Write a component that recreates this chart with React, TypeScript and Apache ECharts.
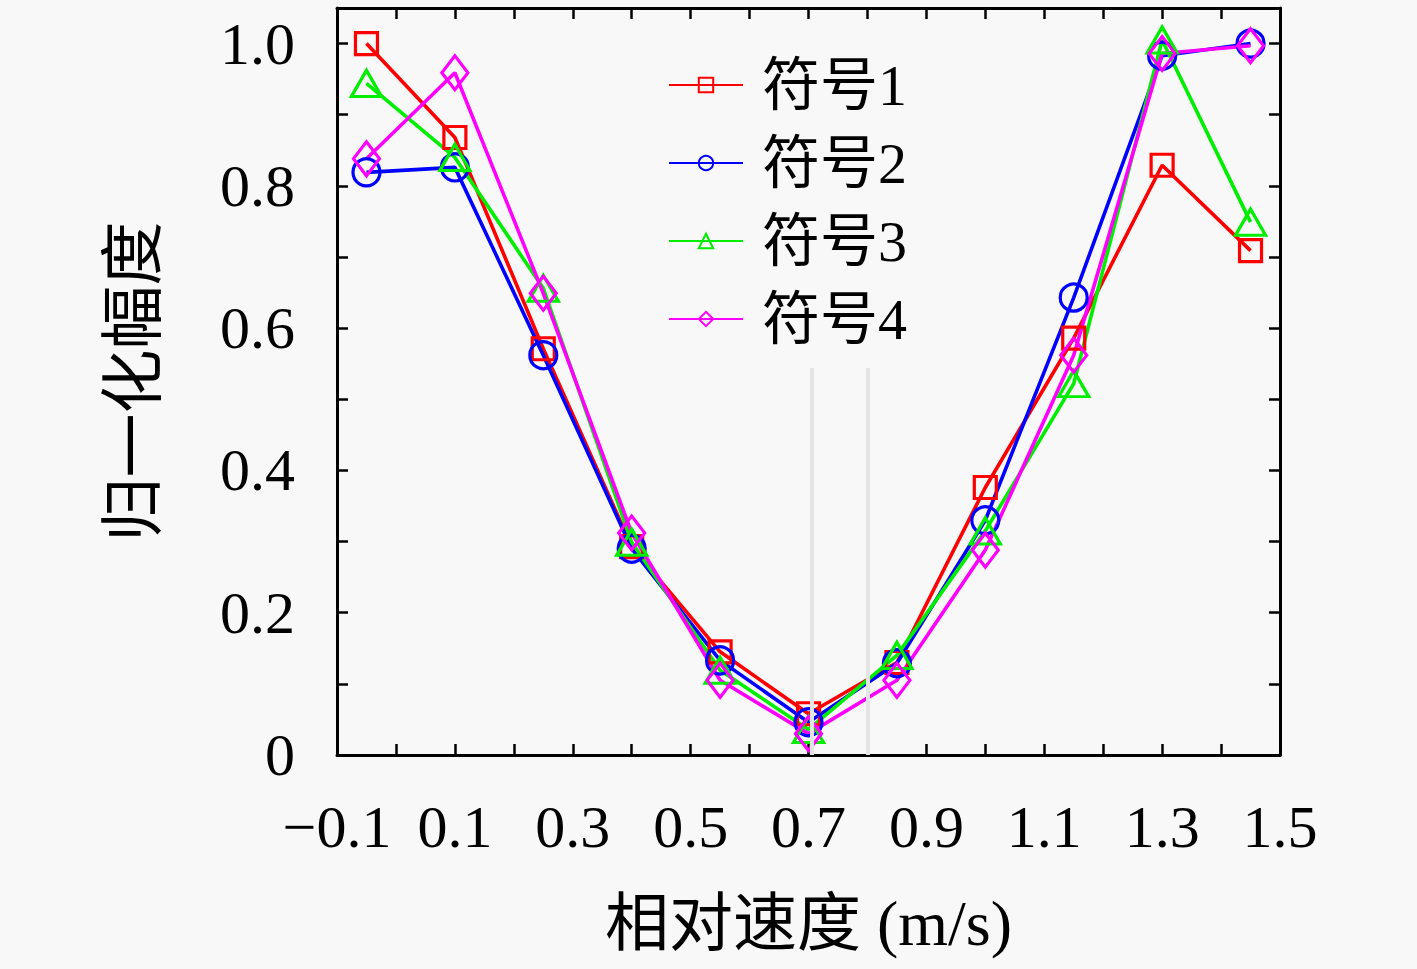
import React, { useEffect, useRef } from "react";
import * as echarts from "echarts";

const xValues = [-0.05, 0.1, 0.25, 0.4, 0.55, 0.7, 0.85, 1.0, 1.15, 1.3, 1.45];
const series1 = [1.0, 0.868, 0.571, 0.293, 0.145, 0.058, 0.13, 0.376, 0.586, 0.829, 0.709];
const series2 = [0.819, 0.826, 0.562, 0.29, 0.133, 0.046, 0.129, 0.33, 0.643, 0.983, 1.0];
const series3 = [0.944, 0.84, 0.656, 0.299, 0.119, 0.036, 0.14, 0.315, 0.522, 1.005, 0.749];
const series4 = [0.838, 0.959, 0.649, 0.312, 0.105, 0.03, 0.105, 0.288, 0.562, 0.986, 0.997];
const seriesNames = ["符号1", "符号2", "符号3", "符号4"];
const xTickLabels = [-0.1, 0.1, 0.3, 0.5, 0.7, 0.9, 1.1, 1.3, 1.5];
const yTickLabels = [0, 0.2, 0.4, 0.6, 0.8, 1.0];
const refLineX = [0.705, 0.8];
const refLineTop = 0.544;

const SERIF = "'Liberation Serif', 'Noto Sans CJK SC', serif";

function has(list: number[], v: number) {
  return list.some((t) => Math.abs(t - v) < 1e-6);
}

export default function App() {
  const ref = useRef<HTMLDivElement>(null);
  useEffect(() => {
    if (!ref.current) return;
    const chart = echarts.init(ref.current, null, { renderer: "svg" });
    const tickStyle = { show: true, inside: true, length: 11, lineStyle: { color: "#000", width: 2.5 } };
    const lineAxis = { show: true, onZero: false, lineStyle: { color: "#000", width: 3 } };
    const mk = (
      name: string,
      data: number[],
      color: string,
      symbol: string,
      size: number | number[]
    ) => ({
      name,
      type: "line",
      data: xValues.map((x, i) => [x, data[i]]),
      symbol,
      symbolSize: size,
      showAllSymbol: true,
      lineStyle: { color, width: 3.6 },
      itemStyle: { color: "rgba(0,0,0,0)", borderColor: color, borderWidth: 3.2 },
      emphasis: { disabled: true },
      z: 3,
    });
    chart.setOption({
      animation: false,
      backgroundColor: "#f8f8f8",
      grid: { left: 337, top: 8, width: 943, height: 747, containLabel: false },
      legend: {
        data: seriesNames,
        orient: "vertical",
        left: 668,
        top: 56,
        padding: 0,
        itemWidth: 74,
        itemHeight: 18,
        itemGap: 20,
        textStyle: {
          fontSize: 58,
          lineHeight: 58,
          fontFamily: SERIF,
          color: "#000",
          padding: [0, 0, 0, 14],
        },
      },
      xAxis: [
        {
          type: "value",
          position: "bottom",
          min: -0.1,
          max: 1.5,
          interval: 0.1,
          axisLine: lineAxis,
          axisTick: tickStyle,
          splitLine: { show: false },
          axisLabel: {
            show: true,
            margin: 42,
            fontSize: 60,
            fontFamily: SERIF,
            color: "#000",
            showMinLabel: true,
            showMaxLabel: true,
            formatter: (v: number) =>
              has(xTickLabels, v) ? (v < 0 ? "\u2212" + Math.abs(v).toFixed(1) : v.toFixed(1)) : "",
          },
          name: "相对速度 (m/s)",
          nameLocation: "middle",
          nameGap: 136,
          nameTextStyle: { fontSize: 64, lineHeight: 64, fontFamily: SERIF, color: "#000" },
        },
        {
          type: "value",
          position: "top",
          min: -0.1,
          max: 1.5,
          interval: 0.1,
          axisLine: lineAxis,
          axisTick: tickStyle,
          splitLine: { show: false },
          axisLabel: { show: false },
        },
      ],
      yAxis: [
        {
          type: "value",
          position: "left",
          min: 0,
          max: 1.05,
          interval: 0.1,
          axisLine: lineAxis,
          axisTick: tickStyle,
          splitLine: { show: false },
          axisLabel: {
            show: true,
            margin: 42,
            fontSize: 60,
            fontFamily: SERIF,
            color: "#000",
            showMaxLabel: false,
            formatter: (v: number) => (has(yTickLabels, v) ? (v === 0 ? "0" : v.toFixed(1)) : ""),
          },
          name: "归一化幅度",
          nameLocation: "middle",
          nameRotate: 90,
          nameGap: 172,
          nameTextStyle: { fontSize: 64, fontFamily: SERIF, color: "#000" },
        },
        {
          type: "value",
          position: "right",
          min: 0,
          max: 1.05,
          interval: 0.1,
          axisLine: lineAxis,
          axisTick: tickStyle,
          splitLine: { show: false },
          axisLabel: { show: false },
        },
      ],
      series: [
        {
          name: "ref",
          type: "line",
          data: [],
          z: 1,
          silent: true,
          markLine: {
            silent: true,
            symbol: "none",
            label: { show: false },
            lineStyle: { color: "#e4e4e4", width: 4, type: "solid" },
            emphasis: { disabled: true },
            data: refLineX.map((x) => [{ coord: [x, 0] }, { coord: [x, refLineTop] }]),
          },
        },
        mk(seriesNames[0], series1, "#ff0000", "rect", 22),
        mk(seriesNames[1], series2, "#0000ff", "circle", 27),
        mk(seriesNames[2], series3, "#00ee00", "triangle", [30, 26]),
        mk(seriesNames[3], series4, "#ff00ff", "diamond", [26, 34]),
      ],
    });
    return () => chart.dispose();
  }, []);
  return (
    <div
      ref={ref}
      style={{ position: "fixed", left: 0, top: 0, width: 1417, height: 969 }}
    />
  );
}
